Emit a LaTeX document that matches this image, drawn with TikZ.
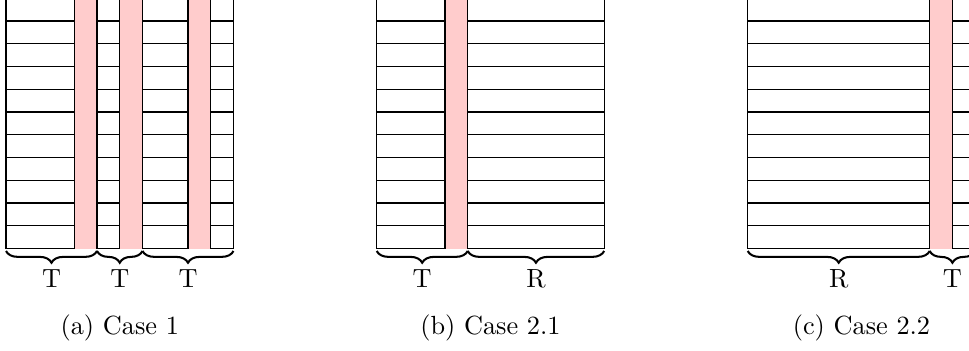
\documentclass[tikz,border=0pt]{standalone}
\usetikzlibrary{decorations.pathreplacing}
\definecolor{barpink}{RGB}{255,204,204}
\newcommand\gridpanel[2]{%
  \begin{scope}[shift={(#1,0)}]
    \foreach \k in {0,...,10}
      \draw[gridline] (0,{248.5-\k*22.75}) -- (227.5,{248.5-\k*22.75});
    \foreach \b in {#2} {
      \fill[barpink] ({\b*22.75},-3) rectangle ({(\b+1)*22.75},248.5);
      \draw[gridline] ({\b*22.75},-3) -- ({\b*22.75},248.5);
      \draw[gridline] ({(\b+1)*22.75},-3) -- ({(\b+1)*22.75},248.5);
    }
    \draw[gridline] (0,-3) -- (0,248.5);
    \draw[gridline] (227.5,-3) -- (227.5,248.5);
  \end{scope}}
\begin{document}
\begin{tikzpicture}[x=0.392pt,y=-0.392pt,
  gridline/.style={line width=0.5pt,black},
  bracestyle/.style={decorate,decoration={brace,amplitude=4.6pt},line width=0.8pt},
  lbl/.style={anchor=base,inner sep=0pt,font=\fontsize{10.3}{12}\selectfont},
  captext/.style={anchor=base,inner sep=0pt,font=\fontsize{10.3}{12}\selectfont}]
\useasboundingbox (0,0) rectangle (969,350);
\clip (0,0) rectangle (969,350);
% panels
\gridpanel{6}{3,5,8}
\gridpanel{376.7}{3}
\gridpanel{747.7}{8}
% brace end points
\coordinate (a0) at (6,251);
\coordinate (a4) at ({6+4*22.75},251);
\coordinate (a6) at ({6+6*22.75},251);
\coordinate (a10) at ({6+10*22.75},251);
\coordinate (b0) at (376.7,251);
\coordinate (b4) at ({376.7+4*22.75},251);
\coordinate (b10) at ({376.7+10*22.75},251);
\coordinate (c0) at (747.7,251);
\coordinate (c8) at ({747.7+8*22.75},251);
\coordinate (c10) at ({747.7+10*22.75},251);
% braces
\draw[bracestyle] (a4) -- (a0);
\draw[bracestyle] (a6) -- (a4);
\draw[bracestyle] (a10) -- (a6);
\draw[bracestyle] (b4) -- (b0);
\draw[bracestyle] (b10) -- (b4);
\draw[bracestyle] (c8) -- (c0);
\draw[bracestyle] (c10) -- (c8);
% labels
\node[lbl] (ta1) at ({6+2*22.75},287.7) {T};
\node[lbl] (ta2) at ({6+5*22.75},287.7) {T};
\node[lbl] (ta3) at ({6+8*22.75},287.7) {T};
\node[lbl] (tb) at ({376.7+2*22.75},287.7) {T};
\node[lbl] (rb) at ({376.7+7*22.75},287.7) {R};
\node[lbl] (rc) at ({747.7+4*22.75},287.7) {R};
\node[lbl] (tc) at ({747.7+9*22.75},287.7) {T};
% captions
\node[captext] (capa) at (119.75,334.3) {(a) Case 1};
\node[captext] (capb) at (490.45,334.3) {(b) Case 2.1};
\node[captext] (capc) at (861.45,334.3) {(c) Case 2.2};
\end{tikzpicture}
\end{document}
